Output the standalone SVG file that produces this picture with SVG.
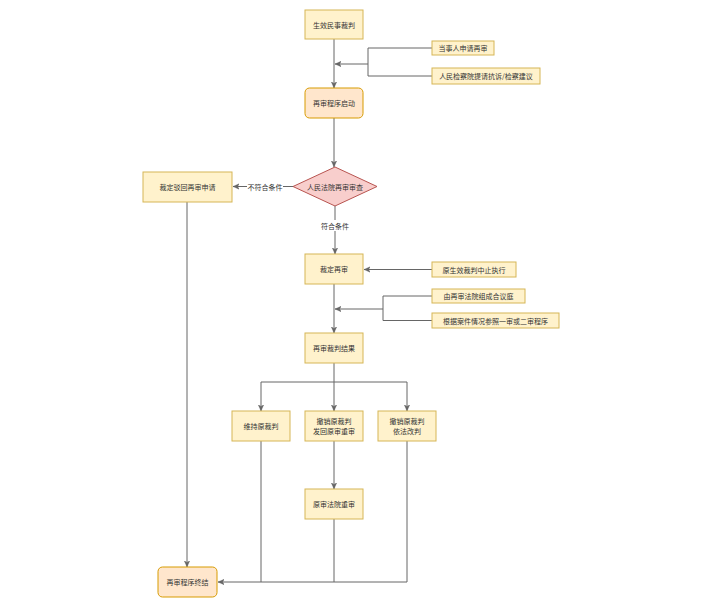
<svg xmlns="http://www.w3.org/2000/svg" width="703" height="607" viewBox="0 0 703 607">
<style>
.y{fill:#fff2cc;stroke:#d6b656;stroke-width:1}
.o{fill:#ffe6cc;stroke:#d79b00;stroke-width:1}
.r{fill:#f8cecc;stroke:#b85450;stroke-width:1}
text{font-family:"Noto Sans CJK SC","Liberation Sans",sans-serif;font-size:7px;fill:#333;text-anchor:middle;dominant-baseline:central}
.e{fill:none;stroke:#666;stroke-width:1}
.a{marker-end:url(#ar)}
</style>
<defs>
<marker id="ar" viewBox="0 0 10 10" refX="9" refY="5" markerWidth="7" markerHeight="7" markerUnits="userSpaceOnUse" orient="auto">
<path d="M0,1 L9,5 L0,9 L2.5,5 Z" fill="#666" stroke="#666" stroke-width="0.5"/>
</marker>
</defs>
<rect width="703" height="607" fill="#fff"/>
<g id="connectors">
<path class="e a" d="M334,39 V88"/>
<path class="e" d="M432,48 H368 V76 H432"/>
<path class="e a" d="M368,64 H335"/>
<path class="e a" d="M334,118 V167"/>
<path class="e a" d="M293,186.5 H233"/>
<path class="e a" d="M335,206 V254"/>
<path class="e a" d="M432,269.5 H364"/>
<path class="e" d="M432,296 H383 V320.5 H432"/>
<path class="e a" d="M383,309 H335"/>
<path class="e a" d="M334,284 V333"/>
<path class="e" d="M334,363 V382"/>
<path class="e a" d="M261,382 H407 V411"/>
<path class="e a" d="M261,382 V411"/>
<path class="e a" d="M334,382 V411"/>
<path class="e a" d="M334,441 V489"/>
<path class="e a" d="M187,202 V567"/>
<path class="e" d="M261,441 V582"/>
<path class="e" d="M334,519 V582"/>
<path class="e a" d="M407,441 V582 H218"/>
<rect x="247" y="181" width="36" height="11" fill="#fff"/>
<text x="265" y="186.5">不符合条件</text>
<rect x="318" y="220" width="34" height="11" fill="#fff"/>
<text x="335" y="225.5">符合条件</text>
</g>
<g id="n1"><rect class="y" x="305" y="10" width="58" height="29"/><text x="334" y="24.5">生效民事裁判</text></g>
<g id="s1"><rect class="y" x="432" y="41" width="62" height="14"/><text x="463" y="48">当事人申请再审</text></g>
<g id="s2"><rect class="y" x="432" y="68" width="108" height="16"/><text x="486" y="76">人民检察院提请抗诉/检察建议</text></g>
<g id="n2"><rect class="o" x="305" y="88" width="58" height="30" rx="4.5"/><text x="334" y="103">再审程序启动</text></g>
<g id="d1"><path class="r" d="M335,167 L377,186.5 L335,206 L293,186.5 Z"/><text x="335" y="186.5">人民法院再审审查</text></g>
<g id="n3"><rect class="y" x="143" y="172" width="89" height="30"/><text x="187.5" y="187">裁定驳回再审申请</text></g>
<g id="n4"><rect class="y" x="305" y="254" width="58" height="30"/><text x="334" y="269">裁定再审</text></g>
<g id="s3"><rect class="y" x="432" y="262" width="84" height="15"/><text x="474" y="269.5">原生效裁判中止执行</text></g>
<g id="s4"><rect class="y" x="432" y="289" width="93" height="14"/><text x="478.5" y="296">由再审法院组成合议庭</text></g>
<g id="s5"><rect class="y" x="432" y="313" width="127" height="15"/><text x="495.5" y="320.5">根据案件情况参照一审或二审程序</text></g>
<g id="n5"><rect class="y" x="305" y="333" width="58" height="30"/><text x="334" y="348">再审裁判结果</text></g>
<g id="n6"><rect class="y" x="232" y="411" width="58" height="30"/><text x="261" y="426">维持原裁判</text></g>
<g id="n7"><rect class="y" x="305" y="411" width="58" height="30"/><text x="334" y="421">撤销原裁判</text><text x="334" y="431">发回原审重审</text></g>
<g id="n8"><rect class="y" x="378" y="411" width="58" height="30"/><text x="407" y="421">撤销原裁判</text><text x="407" y="431">依法改判</text></g>
<g id="n9"><rect class="y" x="305" y="489" width="58" height="30"/><text x="334" y="504">原审法院重审</text></g>
<g id="n10"><rect class="o" x="158" y="567" width="59" height="30" rx="4.5"/><text x="187.5" y="582">再审程序终结</text></g>
</svg>
